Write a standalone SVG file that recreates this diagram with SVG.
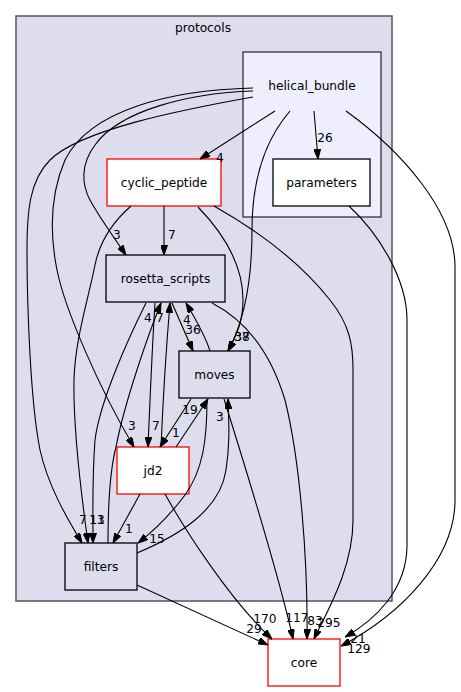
<svg xmlns="http://www.w3.org/2000/svg" width="461" height="692" viewBox="0 0 461 692">
<style>
text{font-family:"DejaVu Sans","Liberation Sans",sans-serif;font-size:12.2px;fill:#000;text-anchor:middle}
.e path{fill:none;stroke:#000;stroke-width:1.1;marker-end:url(#ah)}
.n{fill:#ddddee;stroke:#000;stroke-width:1.3}
.r{fill:#fff;stroke:#ff0000;stroke-width:1.3}
.w{fill:#fff;stroke:#000;stroke-width:1.3}
</style>
<defs>
<marker id="ah" viewBox="0 0 10 7" refX="10" refY="3.5" markerWidth="10" markerHeight="7" markerUnits="userSpaceOnUse" orient="auto">
<path d="M0,0 L10,3.5 L0,7 z" fill="#000" stroke="#000"/>
</marker>
</defs>
<rect width="461" height="692" fill="#fff"/>
<g id="cluster_protocols">
<rect x="16" y="16" width="376" height="585" fill="#ddddee" stroke="#555" stroke-width="1.5"/>
<text x="203" y="31.5">protocols</text>
</g>
<g id="cluster_helical_bundle">
<rect x="243" y="52" width="138" height="165" fill="#eeeeff" stroke="#333" stroke-width="1.3"/>
<text x="312" y="89.5">helical_bundle</text>
</g>
<g id="cyclic_peptide"><rect class="r" x="107" y="159" width="114" height="47"/><text x="164" y="186.5">cyclic_peptide</text></g>
<g id="parameters"><rect class="w" x="273" y="159" width="97" height="47"/><text x="321.5" y="186.5">parameters</text></g>
<g id="rosetta_scripts"><rect class="n" x="106" y="255" width="119" height="47"/><text x="165.5" y="282.5">rosetta_scripts</text></g>
<g id="moves"><rect class="n" x="179" y="351" width="71" height="47"/><text x="214.5" y="378.5">moves</text></g>
<g id="jd2"><rect class="r" x="117" y="447" width="72" height="47"/><text x="153" y="474.5">jd2</text></g>
<g id="filters"><rect class="n" x="65" y="543" width="72" height="47"/><text x="101" y="570.5">filters</text></g>
<g id="core"><rect class="r" x="268" y="639" width="72" height="47"/><text x="304" y="666.5">core</text></g>
<g class="e" id="connectors">
<path d="M275,111 L200,159"/>
<path d="M314,111 L318,159"/>
<path d="M253,91 C190,93 120,110 95,145 C80,165 82,185 90,200 C98,215 112,235 126,255"/>
<path d="M253,88 C170,90 90,110 65,160 C50,195 50,235 57,270 C65,310 100,390 134,447"/>
<path d="M253,97 C180,110 80,130 50,160 C30,180 27,210 27,250 C27,300 30,400 40,450 C48,485 65,515 82,543"/>
<path d="M290,111 C265,140 252,180 252,230 C252,280 245,320 228,351"/>
<path d="M346,111 C400,150 455,210 455,267 L455,500 C455,560 400,615 341,646"/>
<path d="M349,206 C380,235 407,280 407,320 L407,545 C407,590 375,620 345,637"/>
<path d="M164,206 L164,255"/>
<path d="M198,207 C230,240 243,270 243,300 C243,320 237,335 228,351"/>
<path d="M131,206 C115,220 100,240 95,265 C88,300 75,340 74,380 C73,430 82,500 88,543"/>
<path d="M214,206 C260,232 300,262 330,300 C350,325 353,345 353,370 L353,520 C353,570 325,615 314,639"/>
<path d="M172,303 L193,351"/>
<path d="M210,351 C205,335 195,318 186,303"/>
<path d="M155,303 C152,350 150,400 148,447"/>
<path d="M161,447 C163,400 166,350 170,303"/>
<path d="M108,543 C108,500 110,470 116,447 C125,400 150,330 161,303"/>
<path d="M146,303 C130,335 100,400 95,440 C92,480 93,510 93,543"/>
<path d="M191,399 L160,447"/>
<path d="M176,447 L208,399"/>
<path d="M207,399 C207,440 203,470 185,495 C170,515 155,530 138,543"/>
<path d="M137,553 C180,535 220,510 226,470 C230,445 229,425 228,399"/>
<path d="M224,399 C240,450 280,580 293,639"/>
<path d="M212,303 C245,320 270,350 285,400 C300,460 308,560 307,639"/>
<path d="M165,494 C185,530 230,600 272,639"/>
<path d="M140,494 L113,543"/>
<path d="M137,585 L268,645"/>
</g>
<g id="edge_labels">
<text x="220" y="162">4</text>
<text x="325" y="142">26</text>
<text x="117" y="239">3</text>
<text x="172" y="239">7</text>
<text x="148" y="322">4</text>
<text x="160" y="322">7</text>
<text x="187" y="324">4</text>
<text x="193" y="334">36</text>
<text x="242" y="341">37</text>
<text x="242" y="341">38</text>
<text x="132" y="430">3</text>
<text x="156" y="430">7</text>
<text x="176" y="437">1</text>
<text x="190" y="414">19</text>
<text x="220" y="421">3</text>
<text x="83" y="524">7</text>
<text x="97" y="524">11</text>
<text x="97" y="524">13</text>
<text x="129" y="533">1</text>
<text x="157" y="543">15</text>
<text x="265" y="623">170</text>
<text x="254" y="633">29</text>
<text x="297" y="622">117</text>
<text x="315" y="625">83</text>
<text x="329" y="627">295</text>
<text x="358" y="643">21</text>
<text x="359" y="653">129</text>
</g>
</svg>
